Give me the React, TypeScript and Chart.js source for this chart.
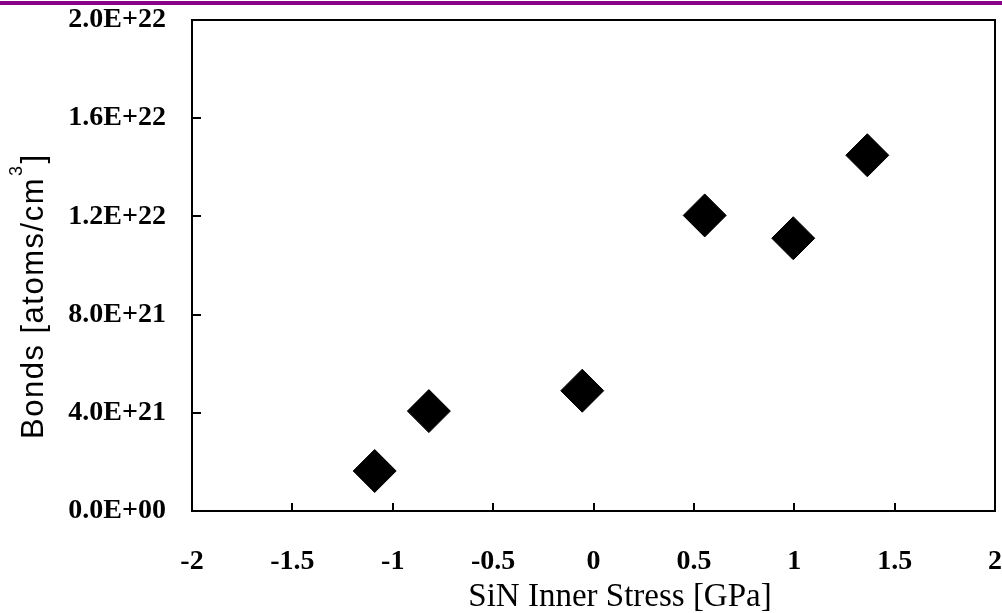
import React, { useEffect, useRef } from "react";
import { Chart, registerables } from "chart.js";

Chart.register(...registerables);

// ---- data ----
const stressGPa = [-1.09, -0.82, -0.056, 0.554, 0.995, 1.364];
const bondsPerCm3 = [1.63e21, 4.07e21, 4.9e21, 1.204e22, 1.111e22, 1.449e22];
const xTickValues = [-2, -1.5, -1, -0.5, 0, 0.5, 1, 1.5, 2];
const yTickValues = [0, 4e21, 8e21, 1.2e22, 1.6e22, 2e22];
const xTitle = "SiN Inner Stress [GPa]";
const yTitleMain = "Bonds [atoms/cm";
const yTitleSup = "3";
const yTitleEnd = "]";

function fmtSci(v: number): string {
  if (v === 0) return "0.0E+00";
  const e = Math.floor(Math.log10(Math.abs(v)) + 1e-9);
  const m = v / Math.pow(10, e);
  return m.toFixed(1) + "E+" + String(e).padStart(2, "0");
}

const decor = {
  id: "decor",
  afterDraw(chart: any) {
    const ctx = chart.ctx as CanvasRenderingContext2D;
    const { left, right, top, bottom } = chart.chartArea;
    ctx.save();
    // purple rule at top of slide
    ctx.fillStyle = "#880088";
    ctx.fillRect(0, 1, chart.width, 4);
    // plot frame
    ctx.strokeStyle = "#000";
    ctx.lineWidth = 2;
    ctx.strokeRect(left, top, right - left, bottom - top);
    // inner ticks
    const xs = chart.scales.x;
    const ys = chart.scales.y;
    ctx.beginPath();
    xs.ticks.forEach((t: any) => {
      const p = Math.round(xs.getPixelForValue(t.value));
      ctx.moveTo(p, bottom);
      ctx.lineTo(p, bottom - 8);
    });
    ys.ticks.forEach((t: any) => {
      const p = Math.round(ys.getPixelForValue(t.value));
      ctx.moveTo(left, p);
      ctx.lineTo(left + 9, p);
    });
    ctx.stroke();
    // x title
    ctx.fillStyle = "#000";
    ctx.font = '33px "Liberation Serif"';
    ctx.textAlign = "center";
    ctx.textBaseline = "alphabetic";
    ctx.fillText(xTitle, 620, 606);
    // y title (rotated)
    ctx.translate(43, 439);
    ctx.rotate(-Math.PI / 2);
    ctx.textAlign = "left";
    (ctx as any).letterSpacing = "1.5px";
    ctx.font = '31px "Liberation Sans"';
    ctx.fillText(yTitleMain, 0, 0);
    let w = ctx.measureText(yTitleMain).width;
    ctx.font = '18px "Liberation Sans"';
    ctx.fillText(yTitleSup, w + 1, -21);
    w += ctx.measureText(yTitleSup).width + 2;
    ctx.font = '31px "Liberation Sans"';
    ctx.fillText(yTitleEnd, w, 0);
    ctx.restore();
  },
};

function zeroPad(s: any) {
  s.paddingTop = 0;
  s.paddingBottom = 0;
  s.paddingLeft = 0;
  s.paddingRight = 0;
}

export default function App() {
  const ref = useRef<HTMLCanvasElement | null>(null);
  useEffect(() => {
    if (!ref.current) return;
    const chart = new Chart(ref.current, {
      type: "scatter",
      data: {
        datasets: [
          {
            label: "Bonds",
            data: stressGPa.map((x, i) => ({ x, y: bondsPerCm3[i] })),
            pointStyle: "rectRot",
            pointRadius: 21.5,
            pointHoverRadius: 21.5,
            backgroundColor: "#000",
            borderColor: "#000",
            borderWidth: 1,
          },
        ],
      },
      options: {
        responsive: false,
        animation: false,
        events: [],
        layout: { autoPadding: false, padding: { top: 20, right: 7, left: 0, bottom: 0 } },
        plugins: {
          legend: { display: false },
          tooltip: { enabled: false },
          title: { display: false },
        },
        scales: {
          x: {
            type: "linear",
            min: -2,
            max: 2,
            afterBuildTicks: (s: any) => {
              s.ticks = xTickValues.map((v) => ({ value: v }));
            },
            afterFit: (s: any) => {
              s.height = 102;
              zeroPad(s);
            },
            grid: { display: false, drawTicks: false },
            border: { display: false },
            ticks: {
              color: "#000",
              padding: 34,
              maxRotation: 0,
              autoSkip: false,
              font: { family: '"Liberation Serif"', size: 28, weight: "bold" },
              callback: (v: any) => String(v),
            },
          },
          y: {
            type: "linear",
            min: 0,
            max: 2e22,
            afterBuildTicks: (s: any) => {
              s.ticks = yTickValues.map((v) => ({ value: v }));
            },
            afterFit: (s: any) => {
              s.width = 192;
              zeroPad(s);
            },
            grid: { display: false, drawTicks: false },
            border: { display: false },
            ticks: {
              color: "#000",
              padding: 26,
              autoSkip: false,
              font: { family: '"Liberation Serif"', size: 28, weight: "bold" },
              callback: (v: any) => fmtSci(Number(v)),
            },
          },
        },
      },
      plugins: [decor],
    });
    return () => chart.destroy();
  }, []);
  return (
    <div style={{ position: "absolute", left: 0, top: 0, width: 1002, height: 613, background: "#fff" }}>
      <canvas ref={ref} width={1002} height={613} style={{ display: "block" }} />
    </div>
  );
}
